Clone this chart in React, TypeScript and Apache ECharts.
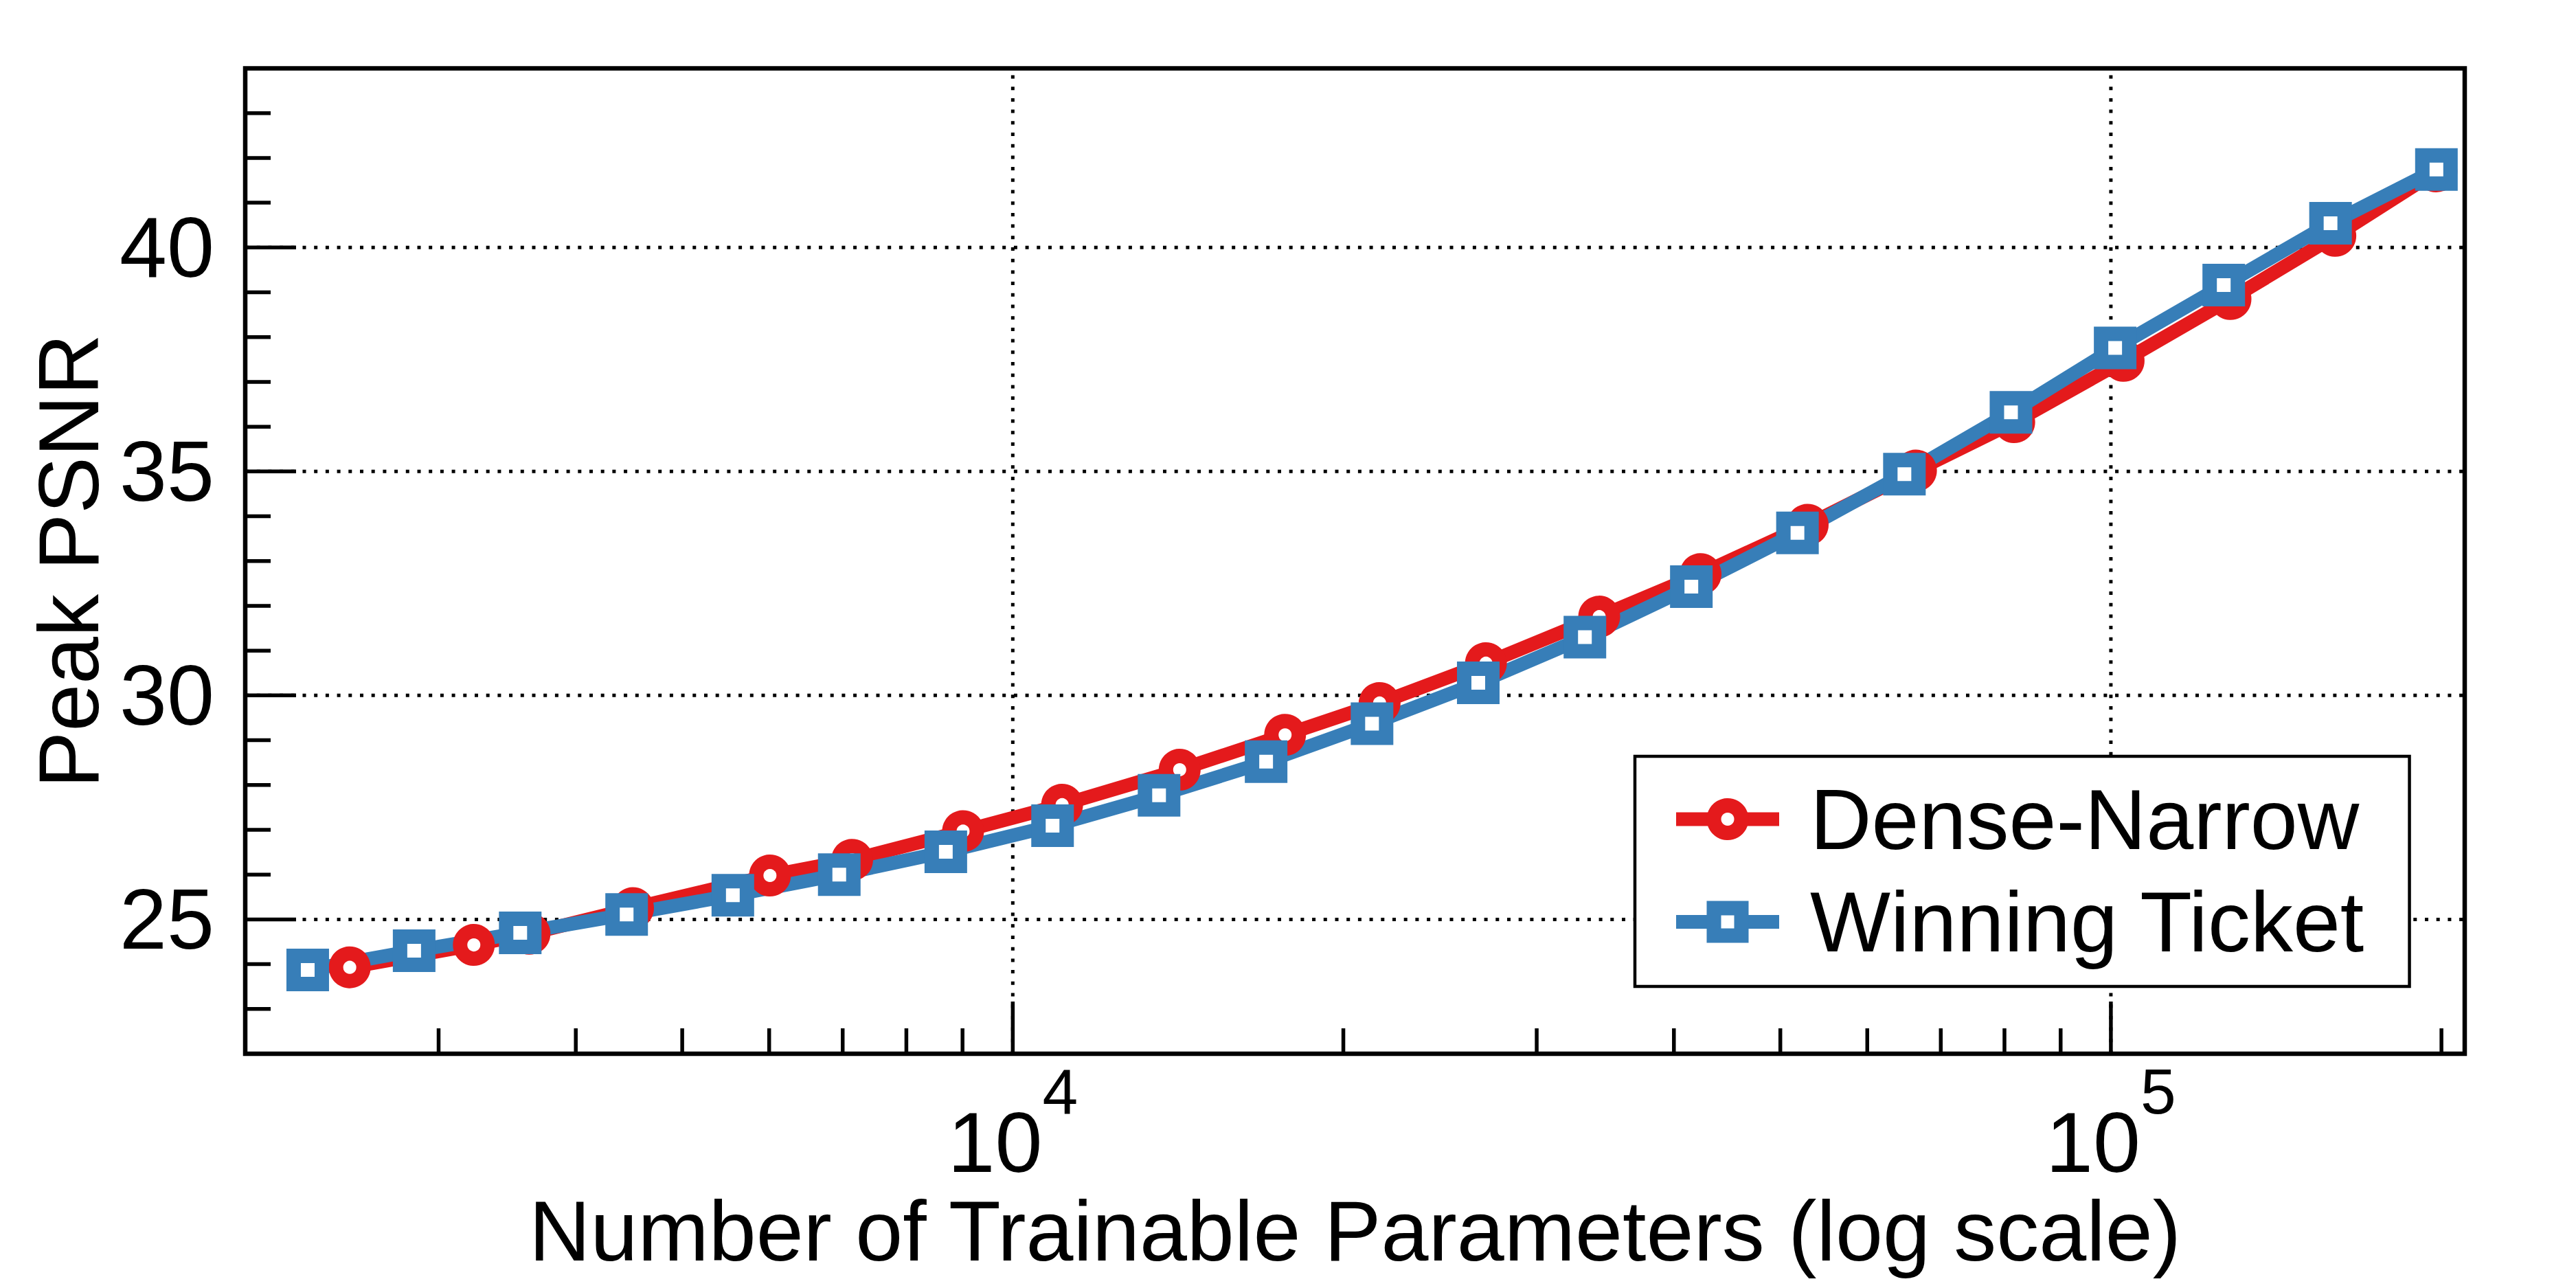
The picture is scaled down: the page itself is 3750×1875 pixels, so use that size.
import React, { useEffect, useRef } from 'react';
import * as echarts from 'echarts';

// ---- data ----
const seriesNames = ['Dense-Narrow', 'Winning Ticket'];

const denseNarrowParams = [2490, 3230, 3630, 4510, 6010, 7140, 9010, 11090, 14190, 17700, 21580, 26970, 34200, 42300, 52950, 66450, 81650, 102700, 128500, 160100, 197900];
const denseNarrowPSNR = [23.93, 24.43, 24.68, 25.25, 25.98, 26.33, 26.97, 27.56, 28.34, 29.12, 29.83, 30.72, 31.76, 32.71, 33.81, 35.02, 36.10, 37.47, 38.85, 40.26, 41.70];

const winningTicketParams = [2280, 2850, 3560, 4450, 5560, 6950, 8690, 10870, 13590, 17010, 21240, 26540, 33190, 41490, 51830, 64860, 81100, 100900, 126700, 158500, 197900];
const winningTicketPSNR = [23.87, 24.30, 24.70, 25.11, 25.54, 26.00, 26.51, 27.09, 27.77, 28.52, 29.37, 30.28, 31.30, 32.43, 33.63, 34.94, 36.32, 37.76, 39.16, 40.54, 41.74];

// ---- axes / ticks ----
const X_MIN = 2000;
const X_MAX = 210000;
const Y_MIN = 22;
const Y_MAX = 44;
const xMajorTicks = [10000, 100000];
const xMajorExponents = ['4', '5'];
const xMinorTicks = [3000, 4000, 5000, 6000, 7000, 8000, 9000, 20000, 30000, 40000, 50000, 60000, 70000, 80000, 90000, 200000];
const yMajorTicks = [25, 30, 35, 40];
const yMinorTicks = [23, 24, 26, 27, 28, 29, 31, 32, 33, 34, 36, 37, 38, 39, 41, 42, 43];

const RED = '#E41A1C';
const BLUE = '#377EB8';
const FONT = '"Liberation Sans", Arial, Helvetica, sans-serif';
const FS = 124;

function tickSeries(data: number[][], dx: number, dy: number, width: number) {
  return {
    type: 'custom',
    coordinateSystem: 'cartesian2d',
    silent: true,
    z: 4,
    clip: false,
    data,
    renderItem: (params: any, api: any) => {
      const p = api.coord([api.value(0), api.value(1)]);
      return {
        type: 'line',
        shape: { x1: p[0], y1: p[1], x2: p[0] + dx, y2: p[1] + dy },
        style: { stroke: '#000', lineWidth: width },
      };
    },
  };
}

function gridSeries(data: number[][], horizontal: boolean) {
  return {
    type: 'custom',
    coordinateSystem: 'cartesian2d',
    silent: true,
    z: 1,
    clip: false,
    data,
    renderItem: (params: any, api: any) => {
      const a = horizontal
        ? api.coord([X_MIN, api.value(1)])
        : api.coord([api.value(0), Y_MIN]);
      const b = horizontal
        ? api.coord([X_MAX, api.value(1)])
        : api.coord([api.value(0), Y_MAX]);
      return {
        type: 'line',
        shape: { x1: a[0], y1: a[1], x2: b[0], y2: b[1] },
        style: { stroke: '#000', lineWidth: 5, lineDash: [5, 11.7] },
      };
    },
  };
}

export default function App() {
  const ref = useRef<HTMLDivElement>(null);

  useEffect(() => {
    if (!ref.current) return;
    const chart = echarts.init(ref.current, null, { renderer: 'svg' });
    const option: any = {
      animation: false,
      backgroundColor: '#fff',
      grid: {
        left: 357,
        top: 99.5,
        right: 162,
        bottom: 341,
        show: true,
        borderColor: '#000',
        borderWidth: 6.5,
        backgroundColor: 'transparent',
        containLabel: false,
        outerBoundsMode: 'none',
      },
      xAxis: {
        type: 'log',
        logBase: 10,
        min: X_MIN,
        max: X_MAX,
        name: 'Number of Trainable Parameters (log scale)',
        nameLocation: 'middle',
        nameGap: 165,
        nameTextStyle: { fontSize: FS, color: '#000', fontFamily: FONT },
        axisLine: { show: false },
        axisTick: { show: false },
        splitLine: { show: false },
        axisLabel: {
          showMinLabel: false,
          showMaxLabel: false,
          margin: 8,
          color: '#000',
          fontFamily: FONT,
          formatter: (v: number) => {
            const i = xMajorTicks.findIndex((t) => Math.abs(t - v) / t < 1e-6);
            return i >= 0 ? `{b|10}{s|${xMajorExponents[i]}}` : '';
          },
          rich: {
            b: { fontSize: FS, lineHeight: 183, verticalAlign: 'bottom', color: '#000', fontFamily: FONT },
            s: { fontSize: 93, lineHeight: 93, verticalAlign: 'top', color: '#000', fontFamily: FONT },
          },
        },
      },
      yAxis: {
        type: 'value',
        min: Y_MIN,
        max: Y_MAX,
        interval: 1,
        name: 'Peak PSNR',
        nameLocation: 'middle',
        nameRotate: 90,
        nameGap: 195,
        nameTextStyle: { fontSize: FS, color: '#000', fontFamily: FONT },
        axisLine: { show: false },
        axisTick: { show: false },
        splitLine: { show: false },
        axisLabel: {
          margin: 45,
          fontSize: FS,
          color: '#000',
          fontFamily: FONT,
          formatter: (v: number) => (yMajorTicks.includes(v) ? String(v) : ''),
        },
      },
      legend: {
        data: seriesNames,
        orient: 'vertical',
        left: 2380,
        top: 1101,
        padding: [29.5, 64, 32, 50],
        itemWidth: 150,
        itemHeight: 50,
        itemGap: 25.5,
        backgroundColor: '#fff',
        borderColor: '#000',
        borderWidth: 4.5,
        borderRadius: 0,
        selectedMode: false,
        textStyle: { fontSize: FS, color: '#000', fontFamily: FONT, padding: [0, 0, 0, 40] },
        itemStyle: { borderWidth: 21 },
        lineStyle: { width: 20 },
      },
      series: [
        gridSeries(yMajorTicks.map((v) => [X_MIN, v]), true),
        gridSeries(xMajorTicks.map((v) => [v, Y_MIN]), false),
        {
          name: seriesNames[0],
          type: 'line',
          data: denseNarrowParams.map((x, i) => [x, denseNarrowPSNR[i]]),
          symbol: 'circle',
          symbolSize: 40,
          color: RED,
          itemStyle: { color: '#fff', borderColor: RED, borderWidth: 21 },
          lineStyle: { color: RED, width: 20 },
          emphasis: { disabled: true },
          z: 2,
        },
        {
          name: seriesNames[1],
          type: 'line',
          data: winningTicketParams.map((x, i) => [x, winningTicketPSNR[i]]),
          symbol: 'rect',
          symbolSize: 41,
          color: BLUE,
          itemStyle: { color: '#fff', borderColor: BLUE, borderWidth: 21 },
          lineStyle: { color: BLUE, width: 20 },
          emphasis: { disabled: true },
          z: 2,
        },
        tickSeries(yMajorTicks.map((v) => [X_MIN, v]), 74, 0, 5.5),
        tickSeries(yMinorTicks.map((v) => [X_MIN, v]), 37, 0, 5.5),
        tickSeries(xMajorTicks.map((v) => [v, Y_MIN]), 0, -76, 5.5),
        tickSeries(xMinorTicks.map((v) => [v, Y_MIN]), 0, -37, 5.5),
      ],
    };
    chart.setOption(option);
    return () => chart.dispose();
  }, []);

  return (
    <div
      ref={ref}
      style={{ position: 'fixed', left: 0, top: 0, width: 3750, height: 1875, background: '#fff' }}
    />
  );
}
